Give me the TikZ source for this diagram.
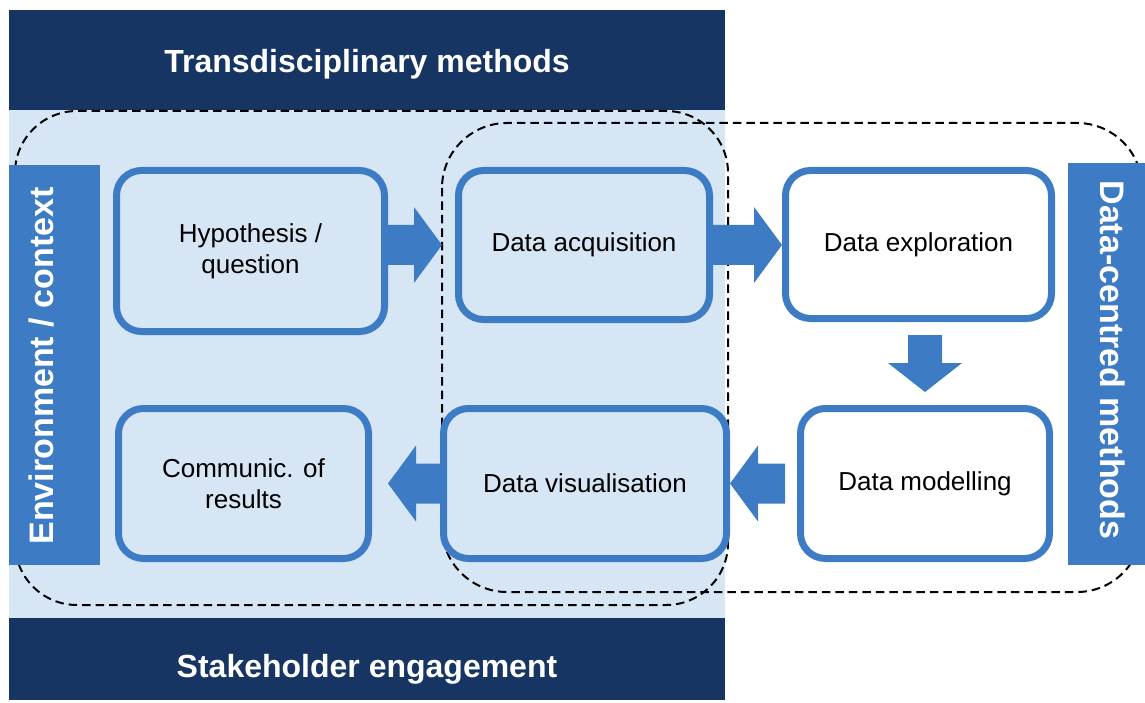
\documentclass[tikz,border=0pt]{standalone}
\usepackage{fontspec}
\setmainfont{Liberation Sans}
\usetikzlibrary{calc}

\definecolor{navy}{HTML}{163562}
\definecolor{midblue}{HTML}{3D7CC4}
\definecolor{paleblue}{HTML}{D6E6F5}

% horizontal block arrow: #1 start of shaft, #2 tip, #3 = 1 (right) or -1 (left)
\newcommand{\harrow}[3]{%
  \fill[arrowfill] ($(#1)+(0,-20)$) -- ($(#2)+({-28*(#3)},-20)$)
    -- ($(#2)+({-28*(#3)},-38)$) -- (#2) -- ($(#2)+({-28*(#3)},38)$)
    -- ($(#2)+({-28*(#3)},20)$) -- ($(#1)+(0,20)$) -- cycle;}

\begin{document}
\begin{tikzpicture}[x=1pt,y=-1pt,
  arrowfill/.style={fill=midblue},
  bandtext/.style={text=white, font=\fontsize{32}{38}\selectfont\bfseries, anchor=base, inner sep=0pt},
  sidebar/.style={fill=midblue, draw=none, inner sep=0pt},
  sidetext/.style={text=white, font=\fontsize{34}{40}\selectfont\bfseries, anchor=base, inner sep=0pt},
  dashline/.style={draw=black, line width=2pt, dash pattern=on 8.5pt off 5pt},
  stepbox/.style={draw=midblue, line width=7pt, rounded corners=25pt, align=center,
    font=\fontsize{26}{31}\selectfont, text=black, inner sep=0pt},
  leftbox/.style={stepbox, fill=paleblue},
  rightbox/.style={stepbox, fill=white}]

\useasboundingbox (0,0) rectangle (1145,703);

% backgrounds and bands
\fill[paleblue] (9,110) rectangle (725,618);
\fill[navy] (9,10) rectangle (725,110);
\fill[navy] (9,618) rectangle (725,700);
\node[bandtext] (toptext) at (367,73) {Transdisciplinary methods};
\node[bandtext] (bottext) at (367,677) {Stakeholder engagement};

% dashed groupings
\draw[dashline, rounded corners=62pt] (15,111) rectangle (728,605);
\draw[dashline, rounded corners=65pt] (442,123) rectangle (1142,592);

% side bars
\node[sidebar, minimum width=91pt, minimum height=400pt] (envbar) at (54.5,365) {};
\node[sidebar, minimum width=77pt, minimum height=402pt] (dcbar) at (1106.5,364) {};
\node[sidetext, rotate=90] (envtext) at (53,366) {Environment / context};
\node[sidetext, rotate=-90] (dctext) at (1100,360) {Data-centred methods};

% process steps
\node[leftbox, minimum width=268pt, minimum height=161pt] (hyp) at (250.5,251) {Hypothesis /\\question};
\node[leftbox, minimum width=251pt, minimum height=149pt] (acq) at (584,245) {Data acquisition};
\node[rightbox, minimum width=266pt, minimum height=148pt] (expl) at (918.5,244.5) {Data exploration};
\node[rightbox, minimum width=249pt, minimum height=150pt] (model) at (925,483.5) {Data modelling};
\node[leftbox, minimum width=283pt, minimum height=150pt] (vis) at (585,483.5) {Data visualisation};
\node[leftbox, minimum width=250pt, minimum height=150pt] (comm) at (243.5,483.5) {Communic. of\\results};

% block arrows between the steps
\coordinate (a1s) at (hyp.east |- acq.west);
\coordinate (a1t) at ($(acq.west)+(-13,0)$);
\harrow{a1s}{a1t}{1}
\coordinate (a2s) at (acq.east);
\coordinate (a2t) at (expl.west |- acq.east);
\harrow{a2s}{a2t}{1}
\coordinate (a3s) at ($(expl.south -| model.north)+(0,13)$);
\coordinate (a3t) at ($(model.north)+(0,-13)$);
\fill[arrowfill] ($(a3s)+(-17,0)$) -- ($(a3t)+(-17,-29)$) -- ($(a3t)+(-37,-29)$)
  -- (a3t) -- ($(a3t)+(37,-29)$) -- ($(a3t)+(17,-29)$) -- ($(a3s)+(17,0)$) -- cycle;
\coordinate (a4s) at ($(model.west)+(-12,0)$);
\coordinate (a4t) at (vis.east |- model.west);
\harrow{a4s}{a4t}{-1}
\coordinate (a5s) at (vis.west);
\coordinate (a5t) at ($(comm.east |- vis.west)+(16,0)$);
\harrow{a5s}{a5t}{-1}
\end{tikzpicture}
\end{document}
